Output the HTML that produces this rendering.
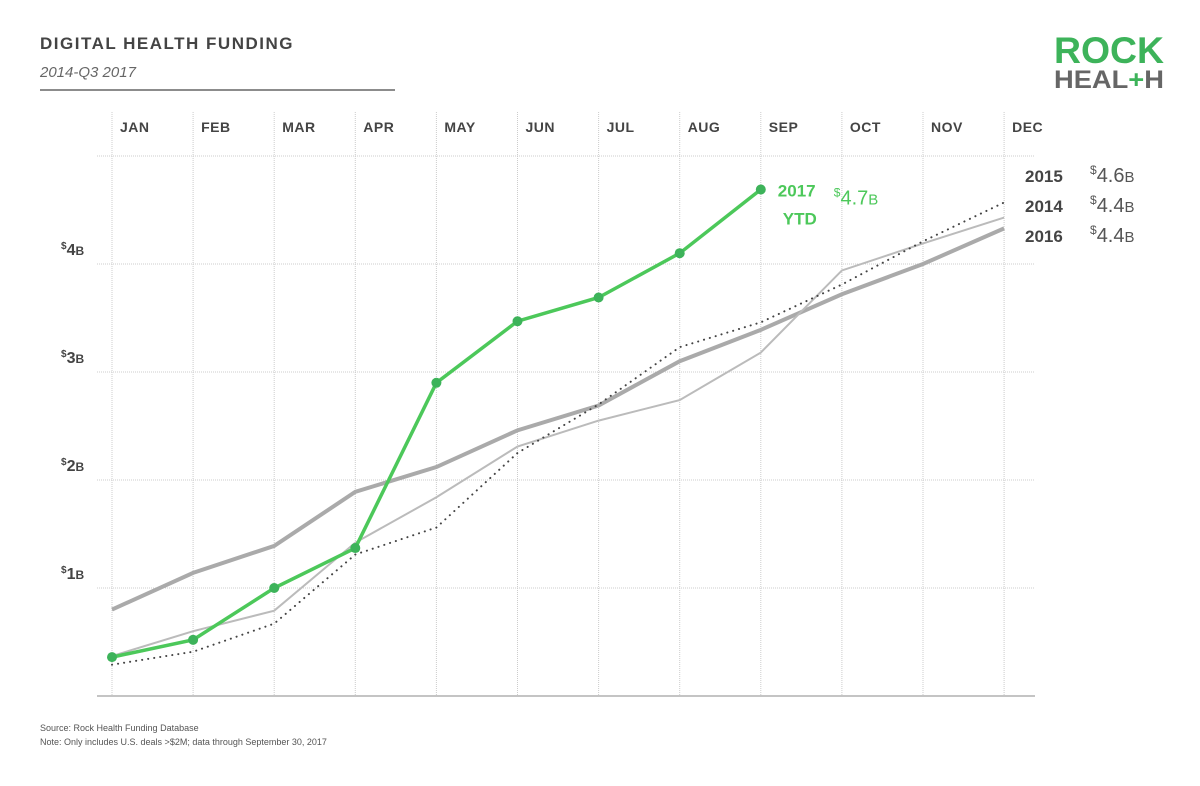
<!DOCTYPE html>
<html><head><meta charset="utf-8"><style>
body{margin:0;background:#fff;width:1200px;height:781px;overflow:hidden;font-family:"Liberation Sans",sans-serif}
</style></head><body>
<svg width="1200" height="781" viewBox="0 0 1200 781" id="svg">
<text x="40" y="49" font-size="17" font-weight="bold" fill="#444" letter-spacing="1.5">DIGITAL HEALTH FUNDING</text>
<text x="40" y="77" font-size="15" font-style="italic" fill="#666">2014-Q3 2017</text>
<line x1="40" y1="90" x2="395" y2="90" stroke="#666" stroke-width="1.5"/>
<g>
<text x="1054" y="63" font-size="37" font-weight="bold" fill="#3db35a" textLength="110" lengthAdjust="spacingAndGlyphs">ROCK</text>
<text x="1054" y="88" font-size="25" font-weight="bold" fill="#666" textLength="110" lengthAdjust="spacingAndGlyphs">HEAL<tspan fill="#3db35a">+</tspan>H</text>
</g>
<g id="grid"></g><g id="series"></g>
<text x="40" y="731" font-size="9" fill="#555">Source: Rock Health Funding Database</text>
<text x="40" y="745" font-size="9" fill="#555">Note: Only includes U.S. deals &gt;$2M; data through September 30, 2017</text>
</svg>
<script>
const months=["JAN","FEB","MAR","APR","MAY","JUN","JUL","AUG","SEP","OCT","NOV","DEC"];
const yTicks=[1,2,3,4];
const s2017=[0.36,0.52,1.0,1.37,2.9,3.47,3.69,4.1,4.69];
const s2016=[0.8,1.14,1.39,1.89,2.12,2.46,2.69,3.1,3.39,3.72,4.0,4.33];
const s2014=[0.37,0.6,0.79,1.42,1.84,2.31,2.55,2.74,3.18,3.94,4.19,4.43];
const s2015=[0.29,0.41,0.67,1.31,1.56,2.25,2.7,3.23,3.46,3.81,4.21,4.57];
const legendYears=["2015","2014","2016"];
const legendValues=["4.6","4.4","4.4"];
const NS="http://www.w3.org/2000/svg";
const xs=i=>112+i*81.1;
const ys=v=>696-v*108;
function mk(t,a,p){const e=document.createElementNS(NS,t);for(const k in a)e.setAttribute(k,a[k]);p.appendChild(e);return e;}
const g=document.getElementById('grid'),sg=document.getElementById('series');
months.forEach((m,i)=>{
 const l=mk('line',{x1:xs(i),x2:xs(i),y1:112,y2:696,stroke:'#ccc','stroke-dasharray':'1,1'},g);
 
 
 const t=mk('text',{x:xs(i)+8,y:132,'font-size':14,'font-weight':'bold',fill:'#444','letter-spacing':'0.5'},g);
 t.textContent=m;
 
 
});
[0,1,2,3,4,5].forEach(v=>{
 const l=mk('line',{x1:97,x2:1035,y1:ys(v),y2:ys(v),stroke:v==0?'#888':'#ccc','stroke-dasharray':v==0?'':'1,1'},g);
 
 
});
yTicks.forEach(v=>{
 const t=mk('text',{x:61,y:ys(v)-9,'font-size':16,'font-weight':'bold',fill:'#444'},g);
 t.innerHTML='<tspan font-size="10" dy="-6">$</tspan><tspan dy="6">'+v+'</tspan><tspan font-size="12">B</tspan>';
 
 
});
function line(arr,attrs,name){
 const p=mk('polyline',Object.assign({points:arr.map((v,i)=>xs(i)+','+ys(v)).join(' '),fill:'none'},attrs),sg);
 
 
}
line(s2016,{stroke:'#aaa','stroke-width':4},'line-2016');
line(s2014,{stroke:'#bbb','stroke-width':2},'line-2014');
line(s2015,{stroke:'#444','stroke-width':2,'stroke-dasharray':'0.1,6','stroke-linecap':'round'},'line-2015');
line(s2017,{stroke:'#4cc85a','stroke-width':3.5},'line-2017');
s2017.forEach((v,i)=>{
 const c=mk('circle',{cx:xs(i),cy:ys(v),r:5,fill:'#3db35a'},sg);
 
 
});
const lx=xs(s2017.length-1);
const l1=mk('text',{x:lx+17,y:ys(s2017[s2017.length-1])+7,'font-size':17,'font-weight':'bold',fill:'#4cc85a'},sg);
l1.textContent='2017';


const l2=mk('text',{x:lx+22,y:ys(s2017[s2017.length-1])+35,'font-size':17,'font-weight':'bold',fill:'#4cc85a'},sg);
l2.textContent='YTD';


const l3=mk('text',{x:lx+73,y:ys(s2017[s2017.length-1])+15,'font-size':20,fill:'#4cc85a'},sg);
l3.innerHTML='<tspan font-size="12" dy="-8">$</tspan><tspan dy="8">'+s2017[s2017.length-1].toFixed(1)+'</tspan><tspan font-size="15">B</tspan>';


legendYears.forEach((y,i)=>{
 const t=mk('text',{x:1025,y:182+i*30,'font-size':17,'font-weight':'bold',fill:'#444'},sg);
 t.textContent=y;
 
 
 const t2=mk('text',{x:1090,y:182+i*30,'font-size':20,fill:'#555'},sg);
 t2.innerHTML='<tspan font-size="12" dy="-8">$</tspan><tspan dy="8">'+legendValues[i]+'</tspan><tspan font-size="15">B</tspan>';
 
 
});
</script>
</body></html>
